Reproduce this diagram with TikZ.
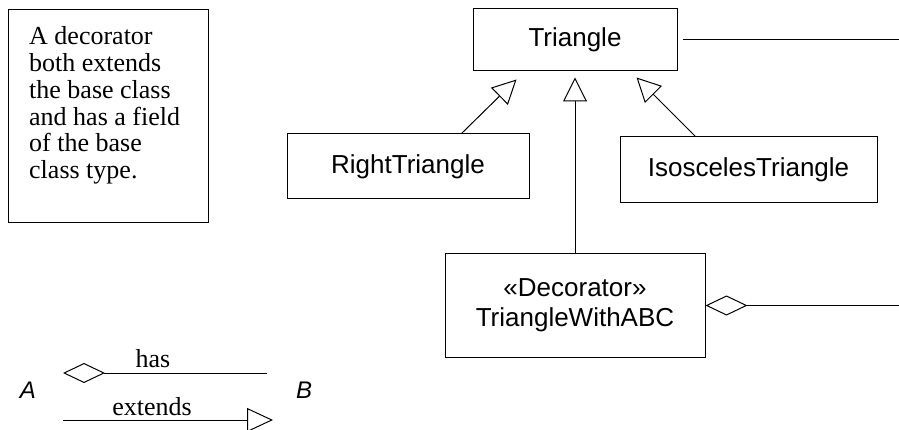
\documentclass[tikz,border=0pt]{standalone}
\usepackage{fontspec}
\setmainfont{Liberation Serif}
\setsansfont{Liberation Sans}
\usetikzlibrary{arrows.meta,calc}

\tikzset{
  cls/.style={draw, line width=1pt, inner sep=0pt, font=\sffamily\fontsize{26}{30}\selectfont, align=center},
  conn/.style={line width=1pt},
  gen/.style={conn, -{Triangle[open, length=24pt, width=24pt]}},
  agg/.style={conn, {Diamond[open, length=42pt, width=20pt]}-},
  serifl/.style={font=\rmfamily\fontsize{26}{26.8}\selectfont},
  endlbl/.style={font=\sffamily\itshape\fontsize{24}{28}\selectfont, inner sep=0pt}
}

\begin{document}
\begin{tikzpicture}[x=1pt, y=-1pt]
  \useasboundingbox[fill=white] (0,0) rectangle (899,430);

  % comment box
  \node[draw, line width=1pt, minimum width=200pt, minimum height=213pt, anchor=north west, inner sep=0pt] (note) at (8,9) {};
  \node[serifl, anchor=north west, align=left, inner sep=0pt] (notetext) at ($(note.north west)+(21,17.5)$)
    {A decorator\\both extends\\the base class\\and has a field\\of the base\\class type.};

  % classes
  \node[cls, minimum width=204pt, minimum height=62pt] (tri) at (575,40) {Triangle};
  \node[cls, minimum width=242pt, minimum height=65pt] (rt) at (408,166.5) {RightTriangle};
  \node[cls, minimum width=257pt, minimum height=66pt] (iso) at (748.5,170) {IsoscelesTriangle};
  \node[cls, minimum width=260pt, minimum height=103pt] (dec) at (575,305.5) {«Decorator»\\TriangleWithABC};

  % generalizations
  \draw[gen] ($(rt.north west)+(175,0)$) -- ($(tri.south west)+(44,8)$);
  \draw[gen] (dec.north) -- ($(tri.south)+(0,6)$);
  \draw[gen] ($(iso.north west)+(76,0)$) -- ($(tri.south east)+(-41,6)$);

  % outgoing associations
  \coordinate (e1) at (899,40);
  \coordinate (e2) at (899,305.5);
  \draw[conn, shorten <=5pt] (tri.east) -- (e1);
  \draw[agg] (dec.east) -- (e2);

  % legend
  \node[endlbl] (A) at (28,390) {A};
  \node[endlbl] (B) at (304,390) {B};
  \coordinate (h1) at (63,373);
  \coordinate (h2) at (267,373);
  \coordinate (x1) at (63,420);
  \coordinate (x2) at (273,420);
  \draw[agg] (h1) -- (h2);
  \draw[conn, -{Triangle[open, length=26pt, width=24pt]}] (x1) -- (x2);
  \node[serifl, anchor=base, inner sep=0pt] (haslbl) at (153,367) {has};
  \node[serifl, anchor=base, inner sep=0pt] (extlbl) at (152,415) {extends};
\end{tikzpicture}
\end{document}
